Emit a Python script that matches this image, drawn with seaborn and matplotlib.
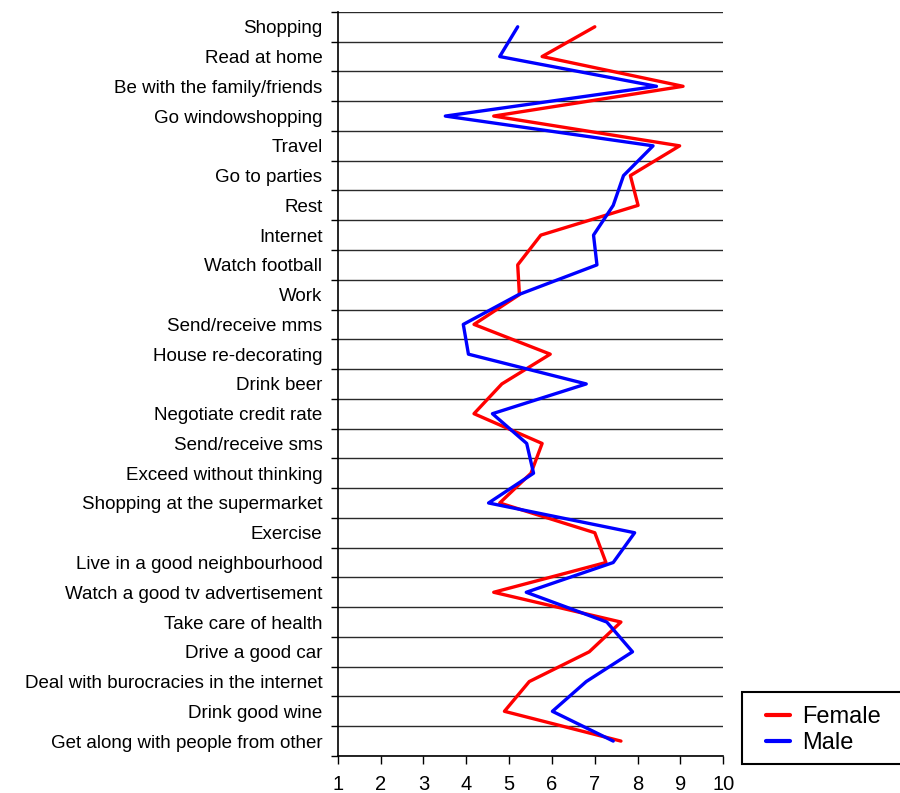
import numpy as np
import pandas as pd
import matplotlib
matplotlib.use("Agg")
import matplotlib.pyplot as plt
from matplotlib.patches import Rectangle
import seaborn as sns

activities = [
    "Shopping", "Read at home", "Be with the family/friends", "Go windowshopping",
    "Travel", "Go to parties", "Rest", "Internet", "Watch football", "Work",
    "Send/receive mms", "House re-decorating", "Drink beer", "Negotiate credit rate",
    "Send/receive sms", "Exceed without thinking", "Shopping at the supermarket",
    "Exercise", "Live in a good neighbourhood", "Watch a good tv advertisement",
    "Take care of health", "Drive a good car", "Deal with burocracies in the internet",
    "Drink good wine", "Get along with people from other",
]
female = [7.0, 5.77, 9.06, 4.64, 8.98, 7.83, 8.01, 5.74, 5.2, 5.24,
          4.18, 5.96, 4.83, 4.18, 5.77, 5.51, 4.78, 7.0, 7.26, 4.64,
          7.61, 6.87, 5.47, 4.89, 7.61]
male = [5.2, 4.78, 8.44, 3.51, 8.36, 7.67, 7.43, 6.97, 7.05, 5.22,
        3.93, 4.05, 6.80, 4.61, 5.41, 5.57, 4.52, 7.93, 7.43, 5.40,
        7.28, 7.88, 6.80, 6.01, 7.43]
x_ticks = list(range(1, 11))

sns.set_theme(style="white")
plt.rcParams["font.family"] = ["Liberation Sans", "DejaVu Sans"]
plt.rcParams["text.color"] = "black"
plt.rcParams["xtick.color"] = "black"
plt.rcParams["ytick.color"] = "black"

pos = np.arange(len(activities))
df = pd.concat([
    pd.DataFrame({"pos": pos, "score": female, "sex": "Female"}),
    pd.DataFrame({"pos": pos, "score": male, "sex": "Male"}),
])

W, H = 900, 793
fig = plt.figure(figsize=(W / 100, H / 100), dpi=100)
ax = fig.add_axes([0.3753, 0.0467, 0.8037 - 0.3753, 0.985 - 0.0467])

sns.lineplot(data=df, x="score", y="pos", hue="sex",
             palette={"Female": "#ff0000", "Male": "#0000ff"},
             orient="y", sort=False, estimator=None, linewidth=2.4, ax=ax)

ax.set_xlim(1, 10)
ax.set_ylim(len(activities) - 0.5, -0.5)

# category labels sit at row centres, tick marks and grid at row boundaries
ax.set_yticks(pos)
ax.set_yticklabels(activities, fontsize=13.5, color="black")
ax.set_yticks(np.arange(len(activities) + 1) - 0.5, minor=True)
ax.tick_params(axis="y", which="major", length=0, pad=11)
ax.tick_params(axis="y", which="minor", left=True, length=5, width=1, color="black", direction="out")
ax.grid(axis="y", which="minor", color="#2a2a2a", linewidth=1.0)
ax.grid(axis="y", which="major", visible=False)
ax.grid(axis="x", visible=False)

ax.set_xticks(x_ticks)
ax.set_xticklabels([str(v) for v in x_ticks], fontsize=14.5, color="black")
ax.tick_params(axis="x", bottom=True, length=6, width=1, color="black", direction="out", pad=7.5)

for side in ("top", "right"):
    ax.spines[side].set_visible(False)
for side in ("left", "bottom"):
    ax.spines[side].set_color("black")
    ax.spines[side].set_linewidth(1.2)

ax.set_xlabel("")
ax.set_ylabel("")

# legend box drawn as a figure-level rectangle, entries placed inside it
box_l, box_t, box_b = 741.7, 691.7, 764.3
fig.patches.append(Rectangle((box_l / W, 1 - box_b / H), (910 - box_l) / W, (box_b - box_t) / H,
                             transform=fig.transFigure, fill=True, facecolor="white",
                             edgecolor="black", linewidth=1.5, zorder=5))

handles, labels = ax.get_legend_handles_labels()
ax.get_legend().remove()
leg = fig.legend(handles, labels, loc="upper left",
                 bbox_to_anchor=(766 / W, 1 - 706 / H),
                 bbox_transform=fig.transFigure, borderaxespad=0, borderpad=0,
                 fontsize=17, frameon=False,
                 handlelength=1.0, handletextpad=0.55, labelspacing=0.18)
leg.set_zorder(6)
for line in leg.get_lines():
    line.set_linewidth(3)

fig.savefig("out.png", dpi=100)
